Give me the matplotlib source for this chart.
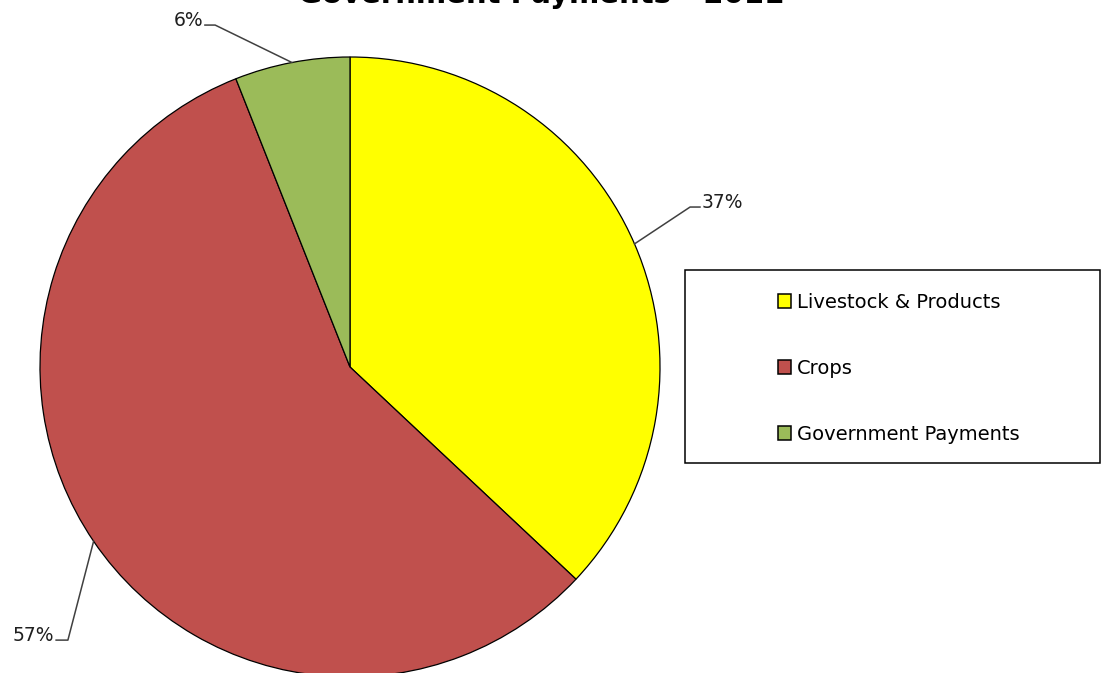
import numpy as np
import matplotlib
matplotlib.use("Agg")
import matplotlib.pyplot as plt
from matplotlib.patches import Patch, Rectangle

# ---- data ----
categories = ["Livestock & Products", "Crops", "Government Payments"]
shares = [37, 57, 6]
colors = ["#FFFF00", "#C0504D", "#9BBB59"]
title = "Government Payments - 2011"

# label elbow / text placement (data units, pie radius = 1)
elbows = [(1.097, 0.516), (-0.910, -0.881), (-0.435, 1.103)]
tail = [0.032, -0.038, -0.033]

W, H = 1102, 673
R = 310.0                      # pie radius in px
cx, cy = 350, 673 - 367        # pie centre in px (from bottom-left)

fig = plt.figure(figsize=(W / 100, H / 100), dpi=100)
ax = fig.add_axes([0, 0, 1, 1])
wedges, _ = ax.pie(shares, colors=colors, startangle=90, counterclock=False,
                   radius=1, wedgeprops=dict(edgecolor="black", linewidth=0.9))
ax.set_xlim(-cx / R, (W - cx) / R)
ax.set_ylim(-cy / R, (H - cy) / R)
ax.set_aspect("auto")
ax.axis("off")

# leader lines + percentage labels
for w, s, (ex, ey), t in zip(wedges, shares, elbows, tail):
    mid = np.deg2rad((w.theta1 + w.theta2) / 2)
    x0, y0 = np.cos(mid), np.sin(mid)
    ax.plot([x0, ex, ex + t], [y0, ey, ey], color="#404040", lw=1.1)
    ha = "left" if t > 0 else "right"
    ax.text(ex + t + np.sign(t) * 0.006, ey + 0.016, f"{s}%", ha=ha, va="center",
            fontsize=13.5, color="#1F1F1F")

# title (cut off at the top, as in the source)
fig.text(541 / W, 1 - 3 / H, title, ha="center", va="baseline",
         fontsize=21, fontweight="bold")

# legend box
fig.patches.append(Rectangle((685 / W, 1 - 463 / H), 415 / W, 193 / H,
                             transform=fig.transFigure, fill=False,
                             edgecolor="black", linewidth=1.1))
handles = [Patch(facecolor=c, edgecolor="black", linewidth=1.1) for c in colors]
fig.legend(handles, categories, loc="upper left",
           bbox_to_anchor=(768 / W, 1 - 283 / H), frameon=False,
           fontsize=14, handlelength=0.7, handleheight=0.7,
           handletextpad=0.3, labelspacing=2.42, borderpad=0)

fig.savefig("out.png", dpi=100)
